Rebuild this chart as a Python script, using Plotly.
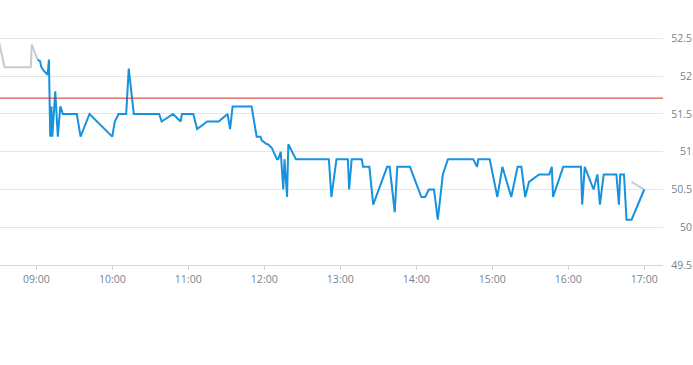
import plotly.graph_objects as go

day = "2024-01-15 "

# Main (session) series
times = ["09:01", "09:03", "09:04", "09:06", "09:09", "09:10", "09:11", "09:12", "09:12:40", "09:15",
         "09:17", "09:19", "09:21", "09:32", "09:35", "09:42", "10:00", "10:02", "10:05", "10:11",
         "10:13", "10:17", "10:37", "10:39", "10:48", "10:54", "10:55", "11:04", "11:07", "11:15",
         "11:24", "11:31", "11:33", "11:35", "11:50", "11:54", "11:57", "11:58", "12:02", "12:03",
         "12:06", "12:10", "12:11", "12:13", "12:15", "12:16", "12:18", "12:19", "12:25", "12:51",
         "12:53", "12:57", "13:06", "13:07", "13:09", "13:17", "13:18", "13:23", "13:26", "13:37",
         "13:39", "13:43", "13:45", "13:55", "14:04", "14:07", "14:10", "14:14", "14:17", "14:21",
         "14:25", "14:45", "14:48", "14:49", "14:58", "15:04", "15:08", "15:15", "15:20", "15:23",
         "15:26", "15:29", "15:37", "15:45", "15:47", "15:48", "15:56", "16:10", "16:11", "16:13",
         "16:20", "16:23", "16:25", "16:28", "16:38", "16:40", "16:41", "16:44", "16:46", "16:50",
         "17:00"]
values = [52.22, 52.2, 52.12, 52.07, 52.02, 52.22, 51.2, 51.6, 51.2, 51.8,
          51.2, 51.6, 51.5, 51.5, 51.2, 51.5, 51.2, 51.4, 51.5, 51.5,
          52.1, 51.5, 51.5, 51.4, 51.5, 51.4, 51.5, 51.5, 51.3, 51.4,
          51.4, 51.5, 51.3, 51.6, 51.6, 51.2, 51.2, 51.15, 51.1, 51.1,
          51.05, 50.9, 50.9, 51.0, 50.5, 50.9, 50.4, 51.1, 50.9, 50.9,
          50.4, 50.9, 50.9, 50.5, 50.9, 50.9, 50.8, 50.8, 50.3, 50.8,
          50.8, 50.2, 50.8, 50.8, 50.4, 50.4, 50.5, 50.5, 50.1, 50.7,
          50.9, 50.9, 50.8, 50.9, 50.9, 50.4, 50.8, 50.4, 50.8, 50.8,
          50.4, 50.6, 50.7, 50.7, 50.8, 50.4, 50.8, 50.8, 50.3, 50.8,
          50.5, 50.7, 50.3, 50.7, 50.7, 50.3, 50.7, 50.7, 50.1, 50.1,
          50.5]

# Out-of-session series (grey)
pre_times = ["08:30", "08:35", "08:55:40", "08:56:30", "09:01"]
pre_values = [52.5, 52.12, 52.12, 52.42, 52.22]
post_times = ["16:50", "17:00"]
post_values = [50.6, 50.5]

threshold = 51.71

y_ticks = [49.5, 50, 50.5, 51, 51.5, 52, 52.5]
y_tick_text = ["49.5", "50", "50.5", "51", "51.5", "52", "52.5"]
x_range = ["08:31:22", "17:14:48"]
y_range = [49.5, 52.877]

BLUE = "#1692df"
GREY = "#c3ccd3"
LABEL = "#76838f"

fig = go.Figure()
fig.add_trace(go.Scatter(x=[day + t for t in pre_times], y=pre_values, mode="lines",
                         line=dict(color=GREY, width=2), hoverinfo="skip", showlegend=False))
fig.add_trace(go.Scatter(x=[day + t for t in post_times], y=post_values, mode="lines",
                         line=dict(color=GREY, width=2), hoverinfo="skip", showlegend=False))
fig.add_trace(go.Scatter(x=[day + t for t in times], y=values, mode="lines",
                         line=dict(color=BLUE, width=2), showlegend=False))

fig.add_shape(type="line", xref="x domain", x0=0, x1=1, yref="y", y0=threshold, y1=threshold,
              line=dict(color="#d42a25", width=1), layer="above")

fig.update_layout(
    width=693, height=365,
    margin=dict(l=0, r=0, t=10, b=100, autoexpand=False),
    paper_bgcolor="white", plot_bgcolor="white",
    font=dict(family="Open Sans, Roboto, sans-serif", size=10, color=LABEL),
    xaxis=dict(
        domain=[0, 663 / 693], automargin=False,
        range=[day + x_range[0], day + x_range[1]],
        type="date", dtick=3600000, tick0=day + "09:00", tickformat="%H:%M",
        showgrid=False, showline=True, linecolor="#ccd6eb", linewidth=1,
        ticks="outside", ticklen=4, tickcolor="#ccd6eb",
        tickfont=dict(size=10.5, color=LABEL), zeroline=False,
    ),
    yaxis=dict(
        range=y_range, side="left", anchor="free", position=1.0, automargin=False,
        tickmode="array", tickvals=y_ticks, ticktext=y_tick_text,
        ticks="", ticklabelstandoff=1,
        showgrid=True, gridcolor="#e6e6e6", gridwidth=1,
        showline=False, zeroline=False,
        tickfont=dict(size=10.5, color=LABEL),
    ),
)

fig.write_html("out.html", config={"displayModeBar": False},
               post_script="document.body.style.margin='0';document.body.style.overflow='hidden';")
